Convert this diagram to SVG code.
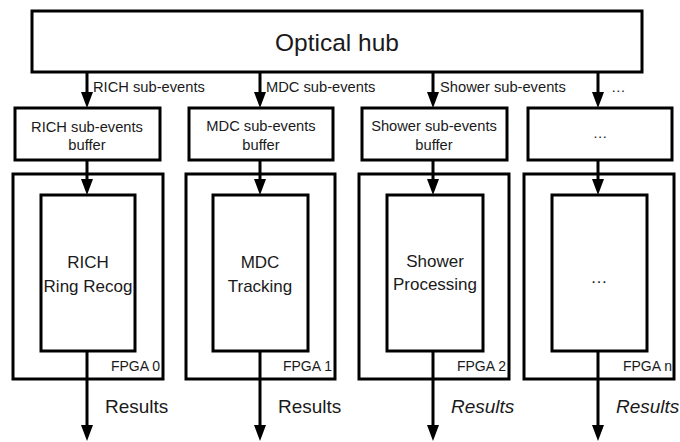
<svg xmlns="http://www.w3.org/2000/svg" width="680" height="442" viewBox="0 0 680 442">
<style>
.box{fill:#fff;stroke:#000;stroke-width:3}
.in{fill:none;stroke:#000;stroke-width:3}
.ln{fill:none;stroke:#000;stroke-width:3;marker-end:url(#ah)}
text{font-family:"Liberation Sans",Arial,sans-serif;fill:#1a1a1a}
.hub{font-size:24.5px;text-anchor:middle}
.lbl{font-size:14.7px}
.bt{font-size:14.7px;text-anchor:middle}
.pt{font-size:17px;text-anchor:middle}
.fp{font-size:14px;text-anchor:end}
.rs{font-size:19px}
</style>
<defs>
<marker id="ah" markerUnits="userSpaceOnUse" markerWidth="16" markerHeight="12" viewBox="0 0 16 12" refX="7" refY="6" orient="auto">
<path d="M0,0 L16,6 L0,12 z" fill="#000"/>
</marker>
</defs>

<g id="hub">
<rect class="box" x="32" y="11" width="610" height="61"/>
<text class="hub" x="337" y="51">Optical hub</text>
</g>

<g id="buf0">
<rect class="box" x="15" y="108" width="145" height="52"/>
<text class="bt" x="87" y="132">RICH sub-events</text>
<text class="bt" x="87" y="150">buffer</text>
</g>
<g id="buf1">
<rect class="box" x="189" y="108" width="144" height="52"/>
<text class="bt" x="261" y="131">MDC sub-events</text>
<text class="bt" x="261" y="150">buffer</text>
</g>
<g id="buf2">
<rect class="box" x="362" y="108" width="145" height="52"/>
<text class="bt" x="434" y="131">Shower sub-events</text>
<text class="bt" x="434" y="150">buffer</text>
</g>
<g id="buf3">
<rect class="box" x="528" y="108" width="144" height="52"/>
<text class="bt" x="600" y="138">…</text>
</g>

<g id="fpga0">
<rect class="box" x="13" y="174" width="150" height="205"/>
<rect class="in" x="41" y="195" width="94" height="156"/>
<text class="pt" x="88" y="268">RICH</text>
<text class="pt" x="88" y="292">Ring Recog</text>
<text class="fp" x="160" y="371">FPGA 0</text>
</g>
<g id="fpga1">
<rect class="box" x="186" y="174" width="149" height="205"/>
<rect class="in" x="213" y="195" width="95" height="156"/>
<text class="pt" x="260" y="268">MDC</text>
<text class="pt" x="260" y="292">Tracking</text>
<text class="fp" x="332" y="371">FPGA 1</text>
</g>
<g id="fpga2">
<rect class="box" x="359" y="174" width="150" height="205"/>
<rect class="in" x="387" y="195" width="96" height="156"/>
<text class="pt" x="435" y="267">Shower</text>
<text class="pt" x="435" y="290">Processing</text>
<text class="fp" x="506" y="371">FPGA 2</text>
</g>
<g id="fpgan">
<rect class="box" x="524" y="174" width="150" height="205"/>
<rect class="in" x="552" y="195" width="95" height="156"/>
<text class="pt" x="599" y="283">…</text>
<text class="fp" x="672" y="371">FPGA n</text>
</g>

<g id="connectors">
<line class="ln" x1="87" y1="72" x2="87" y2="99"/>
<line class="ln" x1="260" y1="72" x2="260" y2="99"/>
<line class="ln" x1="433" y1="72" x2="433" y2="99"/>
<line class="ln" x1="598" y1="72" x2="598" y2="99"/>
<line class="ln" x1="87" y1="160" x2="87" y2="186"/>
<line class="ln" x1="260" y1="160" x2="260" y2="186"/>
<line class="ln" x1="433" y1="160" x2="433" y2="186"/>
<line class="ln" x1="598" y1="160" x2="598" y2="186"/>
<line class="ln" x1="87" y1="351" x2="87" y2="432"/>
<line class="ln" x1="260" y1="351" x2="260" y2="432"/>
<line class="ln" x1="433" y1="351" x2="433" y2="432"/>
<line class="ln" x1="598" y1="351" x2="598" y2="432"/>
<text class="lbl" x="93" y="92">RICH sub-events</text>
<text class="lbl" x="266" y="92">MDC sub-events</text>
<text class="lbl" x="440" y="92">Shower sub-events</text>
<text class="lbl" x="611" y="92">…</text>
<text class="rs" x="105" y="413">Results</text>
<text class="rs" x="278" y="413">Results</text>
<text class="rs" x="451" y="413" font-style="italic">Results</text>
<text class="rs" x="616" y="413" font-style="italic">Results</text>
</g>
</svg>
